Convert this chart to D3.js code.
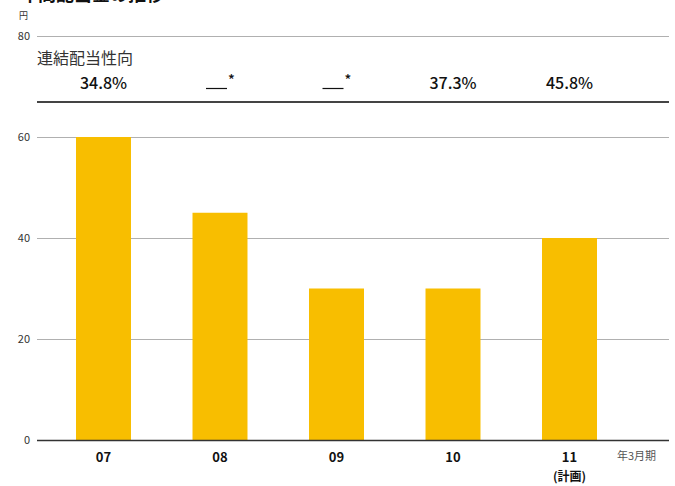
<!DOCTYPE html>
<html><head><meta charset="utf-8">
<script src="https://cdn.jsdelivr.net/npm/d3@7"></script>
<style>body{margin:0;background:#fff}svg{display:block}text{font-family:"Noto Sans CJK JP","Noto Sans",sans-serif}</style>
</head><body>
<svg id="c" width="675" height="486"></svg>
<script>
const categories = ["07","08","09","10","11"];
const subLabels = ["","","","","(計画)"];
const dividends = [60,45,30,30,40];
const payoutRatios = ["34.8%","__*","__*","37.3%","45.8%"];
const yTicks = [0,20,40,60,80];

const svg = d3.select("#c");
const left = 37, right = 669;
const y = d3.scaleLinear().domain([0,80]).range([440,36]);
const x = d3.scaleBand().domain(categories).range([76,597]).paddingInner(0.528).paddingOuter(0);

svg.append("text").attr("x",20).attr("y",1).attr("font-size",18).attr("font-weight","bold").attr("fill","#111").text("年間配当金の推移");
svg.append("text").attr("x",19).attr("y",19).attr("font-size",9).attr("fill","#333").text("円");

// gridlines
svg.selectAll("line.grid").data(yTicks.filter(d=>d>0)).join("line")
  .attr("x1",left).attr("x2",right).attr("y1",d=>y(d)+0.5).attr("y2",d=>y(d)+0.5)
  .attr("stroke","#b0b0b0").attr("stroke-width",1);
svg.selectAll("text.ytick").data(yTicks).join("text")
  .attr("x",30).attr("y",d=>y(d)+4).attr("text-anchor","end").attr("font-size",11).attr("fill","#333").text(d=>d);

// bars
svg.selectAll("rect.bar").data(dividends).join("rect")
  .attr("x",(d,i)=>x(categories[i])).attr("width",x.bandwidth())
  .attr("y",d=>y(d)).attr("height",d=>y(0)-y(d)).attr("fill","#F8BE00");

// baseline
svg.append("line").attr("x1",left).attr("x2",right).attr("y1",y(0)+0.5).attr("y2",y(0)+0.5).attr("stroke","#333").attr("stroke-width",1.5);

// payout ratio table
svg.append("text").attr("x",37).attr("y",64).attr("font-size",16).attr("fill","#333").text("連結配当性向");
svg.append("line").attr("x1",left).attr("x2",right).attr("y1",102).attr("y2",102).attr("stroke","#444").attr("stroke-width",2);
payoutRatios.forEach((p,i)=>{
  const cx = x(categories[i])+x.bandwidth()/2;
  if(p.startsWith("__")){
    svg.append("line").attr("x1",cx-14).attr("x2",cx+7).attr("y1",88.5).attr("y2",88.5).attr("stroke","#111").attr("stroke-width",1.2);
    svg.append("text").attr("x",cx+8).attr("y",85).attr("font-size",14).attr("font-weight",500).attr("fill","#111").text("*");
  } else {
    svg.append("text").attr("x",cx).attr("y",89).attr("text-anchor","middle").attr("font-size",16).attr("font-weight",500).attr("fill","#111").text(p);
  }
});

// x labels
categories.forEach((c,i)=>{
  const cx = x(c)+x.bandwidth()/2;
  svg.append("text").attr("x",cx).attr("y",462).attr("text-anchor","middle").attr("font-size",13).attr("font-weight","bold").attr("fill","#111").text(c);
  if(subLabels[i]) svg.append("text").attr("x",cx).attr("y",481).attr("text-anchor","middle").attr("font-size",12).attr("font-weight","bold").attr("fill","#111").text(subLabels[i]);
});
svg.append("text").attr("x",617).attr("y",460).attr("font-size",11).attr("fill","#555").text("年3月期");
</script>
</body></html>
